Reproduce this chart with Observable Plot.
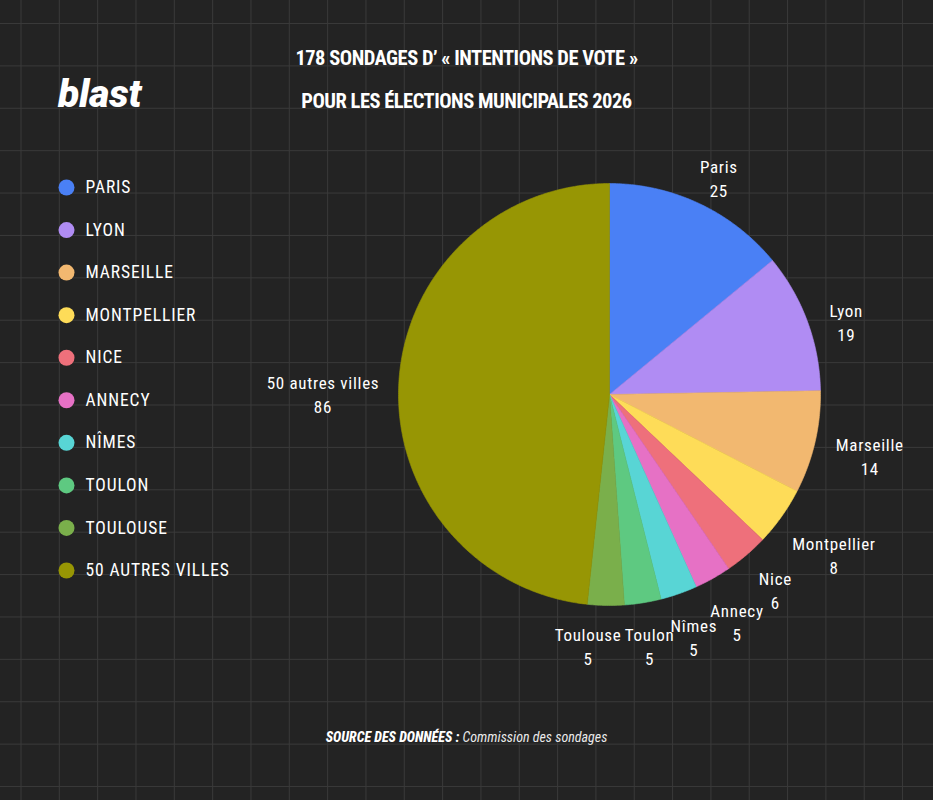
<!DOCTYPE html>
<html><head><meta charset="utf-8">
<script src="https://cdn.jsdelivr.net/npm/d3@7"></script>
<script src="https://cdn.jsdelivr.net/npm/@observablehq/plot@0.6"></script>
<style>
html,body{margin:0;padding:0;}
body{width:933px;height:800px;overflow:hidden;background-color:#232323;
 background-image:linear-gradient(to right,#393939 1px,transparent 1px),linear-gradient(to bottom,#393939 1px,transparent 1px);
 background-size:38.33px 42.4px;background-position:20.5px 23px;}
#page{position:relative;width:933px;height:800px;color:#fff;font-family:Roboto,sans-serif;font-stretch:75%;}
.abs{position:absolute;}
#logo{left:58px;top:74.5px;font-family:Roboto,sans-serif;font-stretch:100%;font-weight:900;font-style:italic;font-size:39px;line-height:39px;letter-spacing:-0.2px;}
.title{left:0;width:933px;text-align:center;font-weight:700;font-size:20.5px;line-height:20.5px;letter-spacing:-0.5px;}
#source{left:0;width:933px;text-align:center;top:730px;font-size:14px;line-height:14px;font-style:italic;}
#source b{font-weight:800;}
#source span{font-weight:400;color:#eaeaea;}
#legend{left:40px;top:165px;}
#pie{left:240px;top:130px;}
</style></head>
<body><div id="page">
<div id="logo" class="abs"></div>
<div id="t1" class="abs title" style="top:47.75px"></div>
<div id="t2" class="abs title" style="top:90.75px"></div>
<div id="legend" class="abs"></div>
<div id="pie" class="abs"></div>
<div id="source" class="abs"></div>
</div>
<script>
const cities = ["Paris","Lyon","Marseille","Montpellier","Nice","Annecy","Nîmes","Toulon","Toulouse","50 autres villes"];
const counts = [25,19,14,8,6,5,5,5,5,86];
const colors = ["#4a80f5","#b08cf3","#f2b870","#fedc58","#ee707b","#e671c5","#58d5d5","#5ec981","#7aaf4b","#979604"];
const titleLines = ["178 SONDAGES D’ « INTENTIONS DE VOTE »","POUR LES ÉLECTIONS MUNICIPALES 2026"];
const sourceLabel = "SOURCE DES DONNÉES :";
const sourceText = "Commission des sondages";
const brand = "blast";

const FONT = 'Roboto,sans-serif';
document.getElementById("logo").textContent = brand;
document.getElementById("t1").textContent = titleLines[0];
document.getElementById("t2").textContent = titleLines[1];
const src = document.getElementById("source");
const b = document.createElement("b"); b.textContent = sourceLabel; src.appendChild(b);
const sp = document.createElement("span"); sp.textContent = " " + sourceText; src.appendChild(sp);

const colorScale = {domain: cities, range: colors};

// Legend
const legend = Plot.plot({
  width: 260, height: 440, margin: 0,
  style: {background: "transparent", fontFamily: FONT, fontStretch: "75%", fontWeight: 450, letterSpacing: "0.9px", overflow: "visible"},
  y: {type: "point", domain: cities, range: [22, 405], padding: 0, round: false, axis: null},
  color: colorScale,
  marks: [
    Plot.dot(cities, {y: d => d, fill: d => d, r: 8, frameAnchor: "left", dx: 26, stroke: null}),
    Plot.text(cities, {y: d => d, text: d => d.toUpperCase(), frameAnchor: "left", dx: 45, textAnchor: "start", fill: "white", fontSize: 17.5})
  ]
});
document.getElementById("legend").appendChild(legend);

// Pie
const W = 693, H = 560, R = 211, cx = 369, cy = 264;
const arcs = d3.pie().sort(null).value(d => d)(counts);
const slicePts = [];
arcs.forEach((a, i) => {
  const name = cities[i];
  slicePts.push({name, x: 0, y: 0});
  const n = Math.max(2, Math.ceil((a.endAngle - a.startAngle) / (Math.PI / 360)));
  for (let k = 0; k <= n; k++) {
    const t = a.startAngle + (a.endAngle - a.startAngle) * k / n;
    slicePts.push({name, x: Math.sin(t), y: Math.cos(t)});
  }
  slicePts.push({name, x: 0, y: 0});
});

// label placement: text box just outside a ring, along the slice's mid angle
const LFS = 17, LS = 0.7;
const ctx = document.createElement("canvas").getContext("2d");
ctx.font = '400 ' + LFS + 'px ' + FONT;
try { ctx.fontStretch = "condensed"; } catch (e) {}
const ring = 230, halfH = 20, gap = 4, upperDrop = 14;
const labels = arcs.map((a, i) => {
  const mid = (a.startAngle + a.endAngle) / 2;
  const ux = Math.sin(mid), uy = -Math.cos(mid);
  const w = ctx.measureText(cities[i]).width + (cities[i].length - 1) * LS;
  const d = ring + Math.abs(ux) * w / 2 + Math.abs(uy) * halfH;
  return {name: cities[i], value: counts[i], w, px: ux * d, py: uy * d + (uy < 0 ? upperDrop : 0)};
});
// simple collision fix for side-by-side labels along the bottom
for (let i = 1; i < labels.length; i++) {
  const p = labels[i - 1], q = labels[i];
  if (Math.abs(p.py - q.py) < 6) {
    const overlap = (q.px + q.w / 2) - (p.px - p.w / 2) + gap;
    if (overlap > 0 && q.px < p.px) q.px -= overlap;
  }
}
labels.forEach(l => { l.x = l.px / R; l.y = -l.py / R; });

const pie = Plot.plot({
  width: W, height: H, margin: 0,
  style: {background: "transparent", fontFamily: FONT, fontStretch: "75%", fontWeight: 400, letterSpacing: LS + "px", overflow: "visible"},
  x: {domain: [-cx / R, (W - cx) / R], axis: null},
  y: {domain: [-(H - cy) / R, cy / R], axis: null},
  color: colorScale,
  marks: [
    Plot.line(slicePts, {x: "x", y: "y", z: "name", fill: "name", stroke: "name", strokeWidth: 0.6, curve: "linear"}),
    Plot.text(labels, {x: "x", y: "y", text: d => d.name + "\n" + d.value, fill: "white", fontSize: LFS, lineHeight: 1.42, lineAnchor: "middle", textAnchor: "middle"})
  ]
});
document.getElementById("pie").appendChild(pie);
</script>
</body></html>
